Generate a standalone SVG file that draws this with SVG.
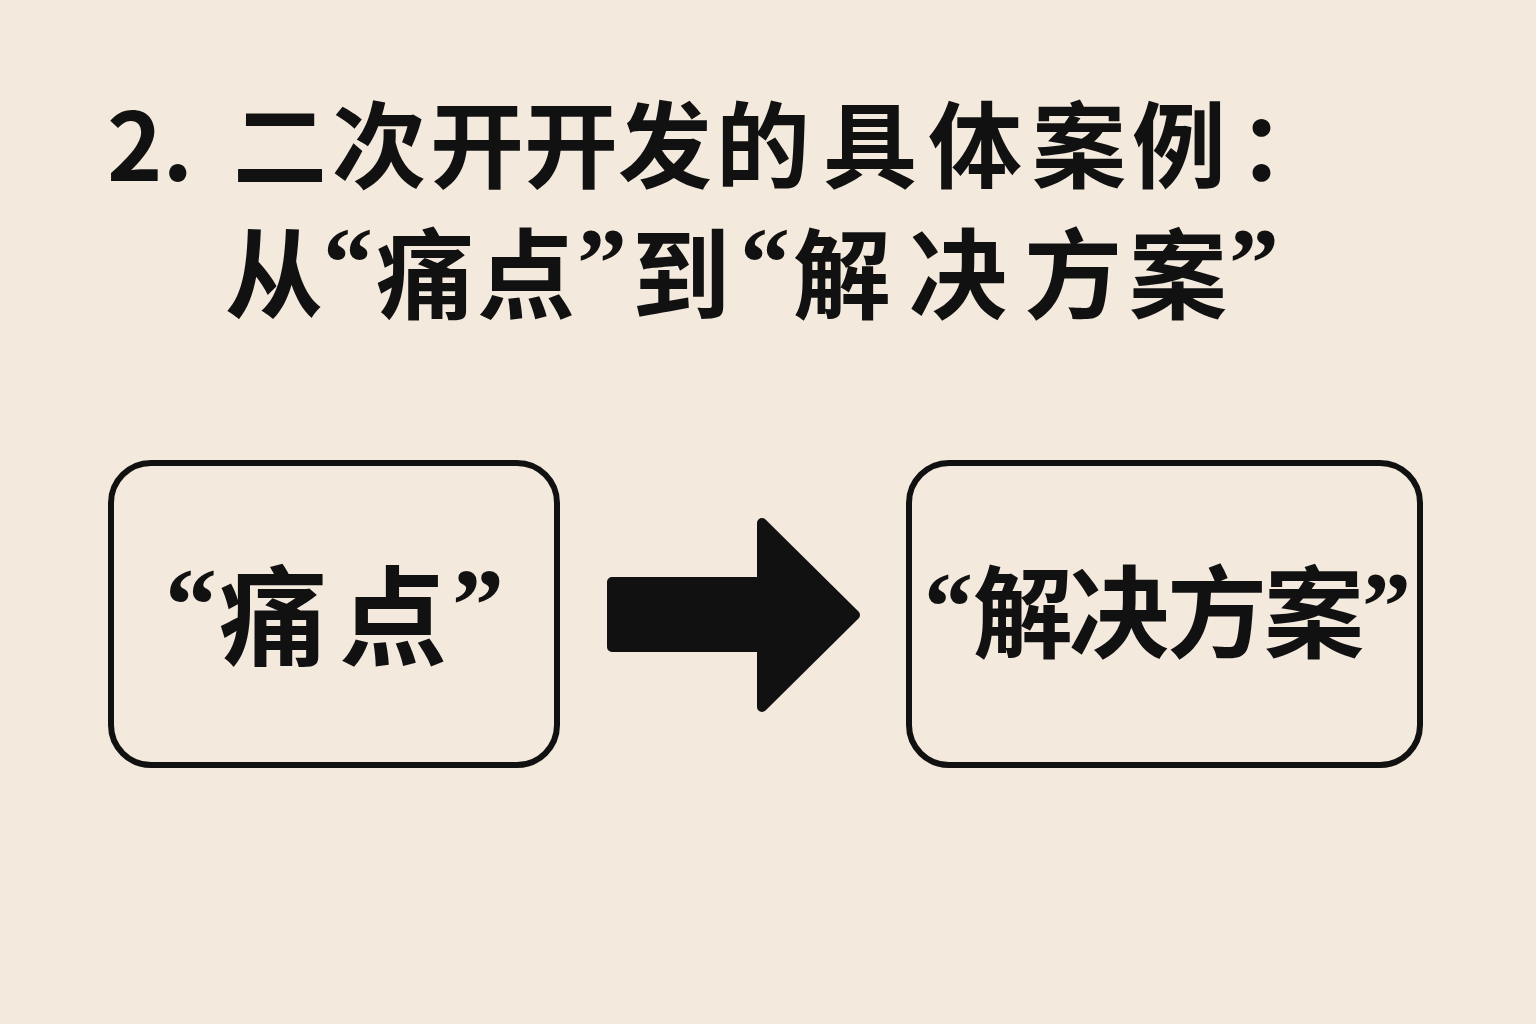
<svg xmlns="http://www.w3.org/2000/svg" width="1536" height="1024" viewBox="0 0 1536 1024">
<style>
.t{font-family:"Noto Sans CJK SC","Noto Sans",sans-serif;font-weight:bold;fill:#111;}
.q{font-family:"Liberation Serif","DejaVu Serif",serif;font-weight:bold;}
.box{fill:none;stroke:#111;stroke-width:6;}
</style>
<rect width="1536" height="1024" fill="#F3EADD"/>
<g id="title">
<text class="t" y="181" font-size="94"><tspan x="107">2. </tspan><tspan x="233">二</tspan><tspan x="332">次</tspan><tspan x="430">开</tspan><tspan x="524">开</tspan><tspan x="618">发</tspan><tspan x="716">的</tspan><tspan x="823">具</tspan><tspan x="928">体</tspan><tspan x="1032">案</tspan><tspan x="1132">例</tspan><tspan x="1238">：</tspan></text>
<text class="t" y="311" font-size="98"><tspan x="225">从</tspan><tspan class="q" x="323" y="296" font-size="100">“</tspan><tspan x="376" y="311">痛</tspan><tspan x="477">点</tspan><tspan class="q" x="577" y="296" font-size="100">”</tspan><tspan x="632" y="311">到</tspan><tspan class="q" x="740" y="296" font-size="100">“</tspan><tspan x="793" y="311">解</tspan><tspan x="909">决</tspan><tspan x="1024">方</tspan><tspan x="1129">案</tspan><tspan class="q" x="1229" y="296" font-size="100">”</tspan></text>
</g>
<g id="node-pain">
<rect class="box" x="111" y="463" width="446" height="302" rx="40"/>
<text class="t" y="657" font-size="108"><tspan class="q" x="165" y="640" font-size="104">“</tspan><tspan x="219" y="657">痛</tspan><tspan x="339">点</tspan><tspan class="q" x="452" y="640" font-size="104">”</tspan></text>
</g>
<g id="node-solution">
<rect class="box" x="909" y="463" width="511" height="302" rx="40"/>
<text class="t" y="650" font-size="100"><tspan class="q" x="924" y="639" font-size="98">“</tspan><tspan x="973" y="650">解</tspan><tspan x="1069">决</tspan><tspan x="1167">方</tspan><tspan x="1264">案</tspan><tspan class="q" x="1362" y="639" font-size="98">”</tspan></text>
</g>
<g id="connectors">
<polygon points="612,582 762,582 762,523 855,615 762,707 762,647 612,647" fill="#111" stroke="#111" stroke-width="10" stroke-linejoin="round"/>
</g>
</svg>
